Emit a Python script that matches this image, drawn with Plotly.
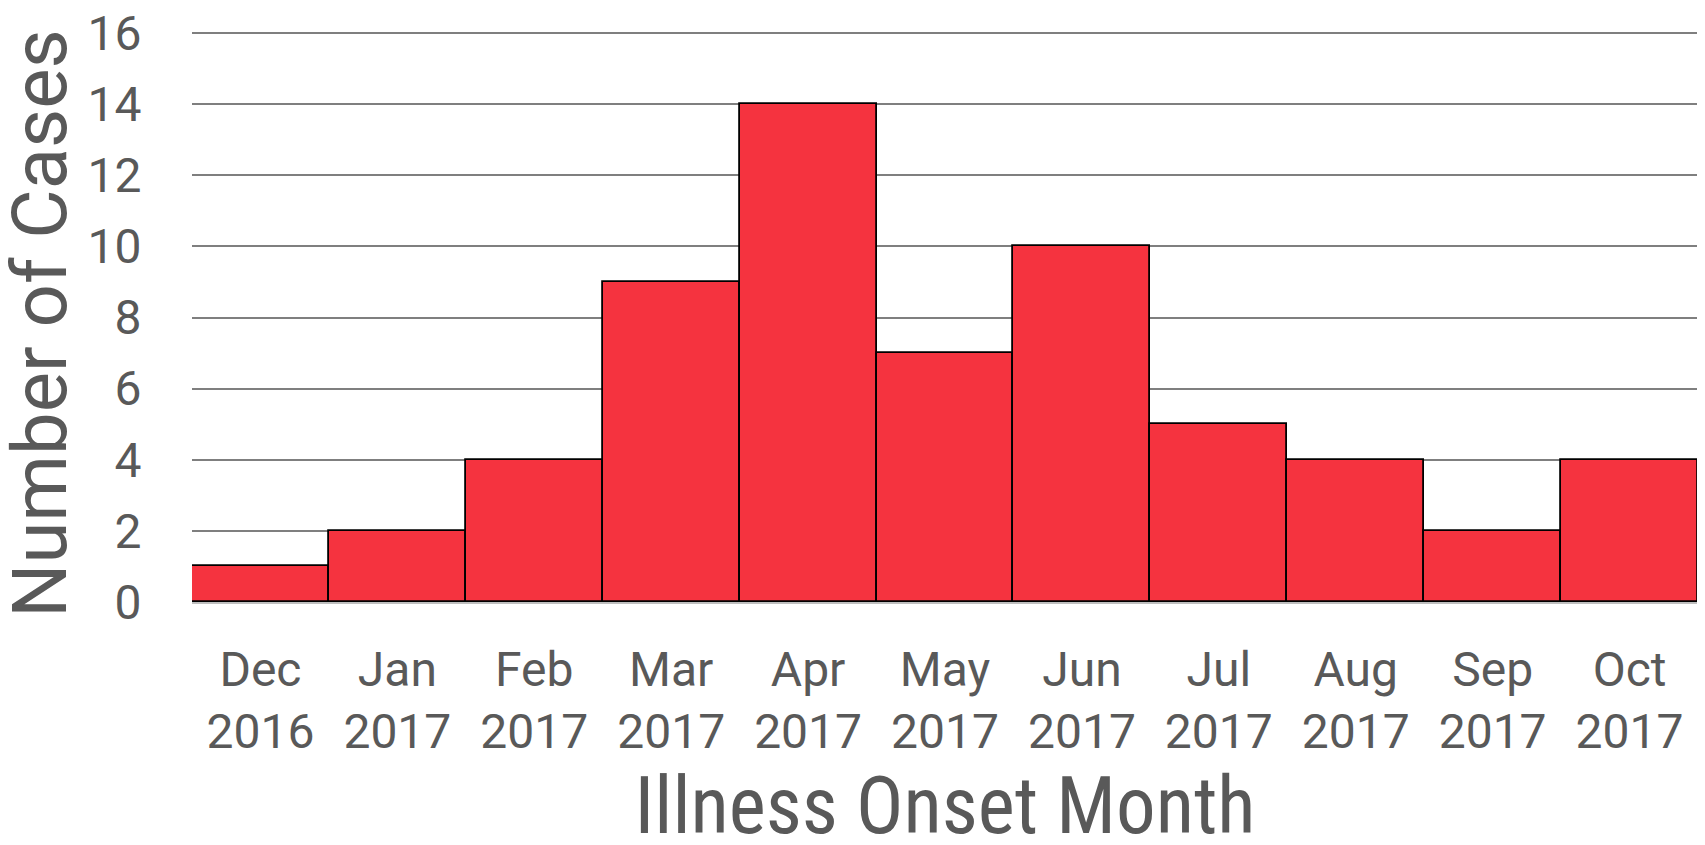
import plotly.graph_objects as go

months = ["Dec<br>2016", "Jan<br>2017", "Feb<br>2017", "Mar<br>2017", "Apr<br>2017", "May<br>2017",
          "Jun<br>2017", "Jul<br>2017", "Aug<br>2017", "Sep<br>2017", "Oct<br>2017"]
cases = [1, 2, 4, 9, 14, 7, 10, 5, 4, 2, 4]
y_ticks = [0, 2, 4, 6, 8, 10, 12, 14, 16]
y_title = "Number of Cases"
x_title = "Illness Onset Month"

fig = go.Figure()
fig.add_trace(go.Bar(
    x=list(range(len(months))), y=cases,
    marker=dict(color="#F5333F", line=dict(color="#000000", width=1.8)),
    width=1.0,
))

fig.update_layout(
    width=1705, height=845,
    margin=dict(l=184, r=15, t=24, b=251),
    paper_bgcolor="white", plot_bgcolor="white",
    bargap=0, showlegend=False,
    font=dict(family="Roboto", color="#595959"),
    xaxis=dict(
        tickmode="array", tickvals=list(range(len(months))), ticktext=months,
        range=[-0.5, 10.5], showgrid=False, zeroline=False,
        showline=False, automargin=False,
        ticks="outside", ticklen=25, tickcolor="rgba(0,0,0,0)",
        tickfont=dict(size=48, family="Roboto", color="#595959"),
        title=dict(text=x_title, standoff=18,
                   font=dict(size=79, family="Roboto Condensed, Roboto", color="#595959")),
    ),
    yaxis=dict(
        range=[0, 16.03], tickmode="array", tickvals=y_ticks,
        showgrid=True, gridcolor="#7F7F7F", gridwidth=2,
        zeroline=True, zerolinecolor="#BFBFBF", zerolinewidth=2.5,
        automargin=False, ticklabeloverflow="allow",
        ticks="outside", ticklen=40, tickcolor="rgba(0,0,0,0)",
        tickfont=dict(size=48, family="Roboto", color="#595959"),
    ),
    annotations=[dict(
        text=y_title, textangle=-90, showarrow=False,
        xref="paper", yref="paper", x=-0.1006, y=0.489,
        xanchor="center", yanchor="middle",
        font=dict(size=76, family="Roboto", color="#595959"),
    )],
)

fig.write_html("out.html")
